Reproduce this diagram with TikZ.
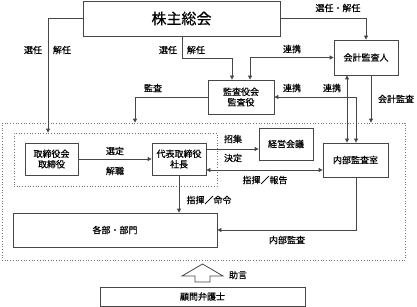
\documentclass[tikz,border=0pt]{standalone}
\usepackage{fontspec}
\newfontfamily\cjk[FakeBold=0.35]{Noto Sans CJK JP}
\usetikzlibrary{arrows.meta}
\begin{document}
\begin{tikzpicture}[x=1pt,y=-1pt,
  box/.style={draw=black!72,line width=0.8pt,fill=white,font=\cjk\fontsize{9}{10.5}\selectfont,align=center,inner sep=0pt},
  dotbox/.style={draw=black!55,line width=0.7pt,dotted,inner sep=0pt},
  lbl/.style={font=\cjk\fontsize{9}{10.5}\selectfont,inner sep=0pt},
  conn/.style={draw=black!72,line width=0.8pt},
  arr/.style={conn,-{Triangle[length=4pt,width=4pt]}},
  arrs/.style={conn,{Triangle[length=4pt,width=4pt]}-{Triangle[length=4pt,width=4pt]}}]
\useasboundingbox (0,0) rectangle (417,307);
% helper coordinates
\coordinate (x48) at (48,0);
\coordinate (x135) at (135,0);
\coordinate (x182) at (182,0);
\coordinate (x232) at (232,0);
\coordinate (x250) at (250,0);
\coordinate (x347) at (347,0);
\coordinate (x356) at (356,0);
\coordinate (x371) at (371,0);
\coordinate (y149) at (0,149);
\coordinate (y170) at (0,170);
% dotted frames
\node[dotbox,minimum width=403,minimum height=137] (outer) at (203.5,191.5) {};
\node[dotbox,minimum width=203,minimum height=53] (inner) at (115.5,159.5) {};
% boxes
\node[box,minimum width=197,minimum height=35,font=\cjk\fontsize{15}{17}\selectfont] (kabu) at (181.5,18.5) {株主総会};
\node[box,minimum width=64,minimum height=35] (kaikei) at (366,57.5) {会計監査人};
\node[box,minimum width=66,minimum height=34] (kansa) at (241,97) {監査役会\\監査役};
\node[box,minimum width=53,minimum height=32] (tori) at (51.5,159) {取締役会\\取締役};
\node[box,minimum width=54,minimum height=32] (daihyo) at (179,159) {代表取締役\\社長};
\node[box,minimum width=54,minimum height=32] (keiei) at (286,144) {経営会議};
\node[box,minimum width=65,minimum height=34] (naibu) at (355.5,160) {内部監査室};
\node[box,minimum width=204,minimum height=34] (kakubu) at (115,230) {各部・部門};
\node[box,minimum width=205,minimum height=19] (komon) at (202.5,296.5) {顧問弁護士};
% connectors
\draw[arr] (kabu.west) -| (inner.north -| x48);
\draw[arr] (kabu.south -| x182) -- ++(0,22) -| (kansa.north -| x232);
\draw[arr] (kabu.east) -| (kaikei.north);
\draw[arrs] (kansa.north -| x250) |- (kaikei.west);
\draw[arr] (kansa.west) -| (outer.north -| x135);
\draw[arrs] (kansa.east) -| (naibu.north -| x356);
\draw[arrs] (kaikei.south -| x347) -- (naibu.north -| x347);
\draw[arr] (kaikei.south -| x371) -- (outer.north -| x371);
\draw[arr] (tori.east) -- (daihyo.west);
\draw[arr] (daihyo.east |- y149) -- (keiei.west |- y149);
\draw[arrs] (daihyo.east |- y170) -- (naibu.west |- y170);
\draw[arr] (daihyo.south) -- (kakubu.north -| daihyo.south);
\draw[arr] (naibu.south -| x356) |- (kakubu.east);
% hollow arrow
\draw[draw=black!72,line width=0.8pt,fill=white] (195,282) -- (195,276) -- (182,276) -- (202.5,264) -- (223,276) -- (210,276) -- (210,282) -- cycle;
% labels
\node[lbl] (l1) at (33,50) {選任};
\node[lbl] (l2) at (62,50) {解任};
\node[lbl] (l3) at (168,50) {選任};
\node[lbl] (l4) at (196,50) {解任};
\node[lbl] (l5) at (338,8) {選任・解任};
\node[lbl] (l6) at (292,49) {連携};
\node[lbl] (l7) at (292,88) {連携};
\node[lbl] (l8) at (332,88) {連携};
\node[lbl] (l9) at (396,99) {会計監査};
\node[lbl] (l10) at (153,88) {監査};
\node[lbl] (l11) at (115,151) {選定};
\node[lbl] (l12) at (115,171) {解職};
\node[lbl] (l13) at (233,139) {招集};
\node[lbl] (l14) at (233,158) {決定};
\node[lbl] (l15) at (265,180) {指揮／報告};
\node[lbl] (l16) at (209,200) {指揮／命令};
\node[lbl] (l17) at (287,240) {内部監査};
\node[lbl] (l18) at (238,275) {助言};
\end{tikzpicture}
\end{document}
